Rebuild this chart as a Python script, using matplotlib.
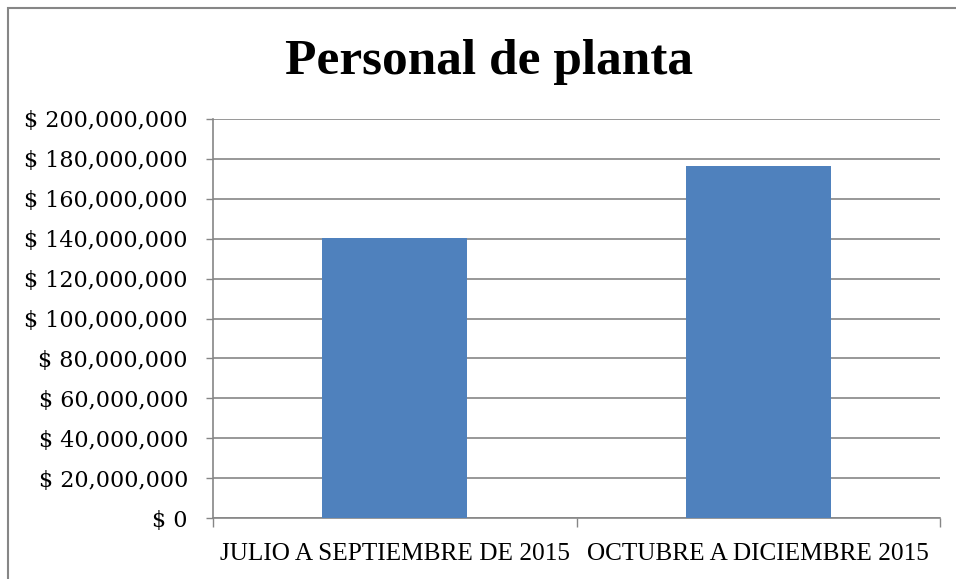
import matplotlib
matplotlib.use("Agg")
import matplotlib.pyplot as plt
from matplotlib.patches import Rectangle
from matplotlib.ticker import FuncFormatter

categories = ["JULIO A SEPTIEMBRE DE 2015", "OCTUBRE A DICIEMBRE 2015"]
values = [140600000, 176200000]
yticks = list(range(0, 200000001, 20000000))

plt.rcParams['font.family'] = ['Liberation Serif', 'DejaVu Serif']

fig = plt.figure(figsize=(9.56, 5.79), dpi=100)
ax = fig.add_axes([213/956, 1-518/579, (940-213)/956, (518-119)/579])

ax.bar(range(len(categories)), values, width=0.4, color='#4F81BD', zorder=3)
ax.set_xlim(-0.5, 1.5)
ax.set_ylim(0, 200000000)
ax.set_yticks(yticks)
ax.yaxis.set_major_formatter(FuncFormatter(lambda v, p: "$ {:,.0f}".format(v)))
ax.set_xticks([-0.5, 0.5, 1.5], minor=False)
ax.set_xticklabels([])
ax.set_xticks([0, 1], minor=True)
ax.set_xticklabels(categories, minor=True, fontsize=18.2)
ax.tick_params(axis='x', which='minor', length=0, pad=18)
ax.tick_params(axis='x', which='major', length=6.5, color='#868686', width=1)
ax.tick_params(axis='y', length=5, color='#868686', width=1, labelsize=16, pad=13)
for lbl in ax.get_yticklabels():
    lbl.set_family(['DejaVu Serif'])
ax.grid(axis='y', color='#868686', linewidth=1.2, zorder=0)
for s in ['top', 'right']:
    ax.spines[s].set_visible(False)
for s in ['left', 'bottom']:
    ax.spines[s].set_color('#868686')
    ax.spines[s].set_linewidth(1.2)

fig.text(489/956, 1-74/579, "Personal de planta", ha='center', va='baseline',
         fontsize=37, fontweight='bold')

fig.patches.append(Rectangle((8/956, -0.1), 1.2, 1-8/579+0.1, transform=fig.transFigure,
                             fill=False, edgecolor='#868686', linewidth=1.5))

fig.savefig("out.png", dpi=100)
